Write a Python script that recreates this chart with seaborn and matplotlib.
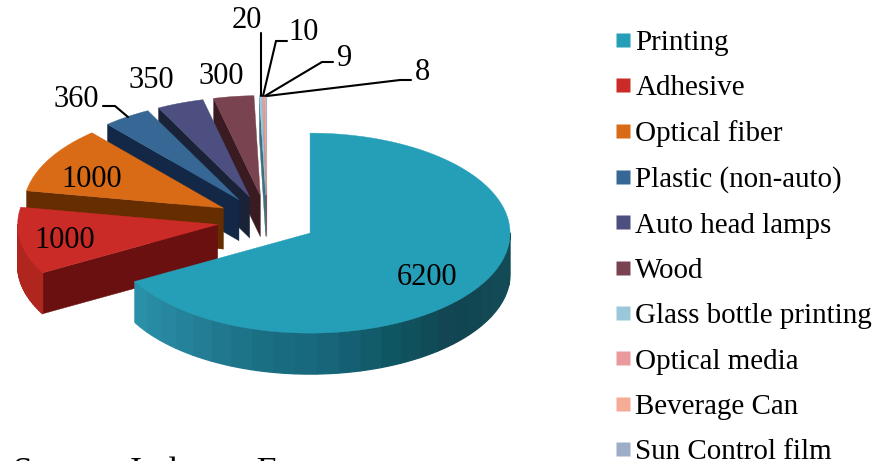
import numpy as np
import matplotlib
matplotlib.use("Agg")
import matplotlib.pyplot as plt
from matplotlib.collections import PolyCollection
from matplotlib.lines import Line2D
from matplotlib.patches import Polygon
import seaborn as sns

# Ink demand by application segment
segments = ["Printing", "Adhesive", "Optical fiber", "Plastic (non-auto)", "Auto head lamps",
            "Wood", "Glass bottle printing", "Optical media", "Beverage Can", "Sun Control film"]
volumes = [6200, 1000, 1000, 360, 350, 300, 20, 10, 9, 8]

top_colors = ["#259FB8", "#CB2B27", "#D96B17", "#376895", "#4C4F7F",
              "#7A4350", "#9AC8DA", "#EA9A9C", "#F6AB97", "#9DADC8"]
cut_colors = ["#14505C", "#6B1010", "#652D00", "#122846", "#1A2237",
              "#3B1B22", "#3F6F7E", "#7A4F50", "#806050", "#5A6A80"]
rim_stops = {"Printing": ["#2A90A8", "#25809A", "#1B7084", "#17667A", "#0F5562", "#114450", "#124A55", "#124A55"],
             "Adhesive": ["#B0261F", "#B0261F"]}

# Projection of the tilted pie onto the canvas
CX, CY = 267.0, 220.4
RX, RY = 200.0, 100.0
DEPTH = 41.0
EXPLODE = 0.25

FONT = "Liberation Serif"


def rim_point(apex, deg):
    rad = np.deg2rad(deg)
    return np.column_stack([apex[0] + RX * np.sin(rad), apex[1] - RY * np.cos(rad)])


sns.set_theme(style="white", rc={"font.family": FONT})
fig = plt.figure(figsize=(8.9, 4.61), dpi=100)
ax = fig.add_axes([0, 0, 1, 1])
ax.set_xlim(0, 890)
ax.set_ylim(461, 0)
ax.axis("off")

edges = np.concatenate([[0], np.cumsum(volumes)]) / np.sum(volumes) * 360
layer = 1

# Back slices first, so the large front slices overlap them
for i in reversed(range(len(volumes))):
    start, end = edges[i], edges[i + 1]
    mid = np.deg2rad((start + end) / 2)
    apex = (CX + EXPLODE * RX * np.sin(mid), CY - EXPLODE * RY * np.cos(mid))

    # Cut face along the leading edge, shown when it turns toward the viewer
    if np.sin(np.deg2rad(start)) < -1e-6:
        corner = rim_point(apex, start)[0]
        quad = [apex, corner, corner + [0, DEPTH], (apex[0], apex[1] + DEPTH)]
        ax.add_patch(Polygon(quad, closed=True, fc=cut_colors[i], ec=cut_colors[i], lw=0.3, zorder=layer))
        layer += 1

    # Outer wall, visible only on the near half of the ellipse
    low, high = max(start, 90.0), min(end, 270.0)
    if high > low and segments[i] in rim_stops:
        steps = np.linspace(low, high, 121)
        pts = rim_point(apex, steps)
        walls = [np.vstack([pts[k:k + 6], pts[k:k + 6][::-1] + [0, DEPTH]]) for k in range(0, 120, 5)]
        shades = sns.blend_palette(rim_stops[segments[i]], n_colors=len(walls))[::-1]
        ax.add_collection(PolyCollection(walls, facecolors=shades, edgecolors=shades, linewidths=0.9, zorder=layer))
        layer += 1

    # Top face
    sweep = rim_point(apex, np.linspace(start, end, 121))
    outline = np.vstack([[apex], sweep])
    ax.add_patch(Polygon(outline, closed=True, fc=top_colors[i], ec=top_colors[i], lw=0.3, zorder=layer))
    layer += 1

# Value labels, with leader lines for the narrow slices
label_font = dict(family=FONT, fontsize=22, color="black", ha="center", va="center", zorder=200)
label_xy = [(427, 277), (65, 240), (92, 179), (76, 99), (151, 81), (221, 76), (247, 20), (304, 33), (345, 58), (423, 73)]
leaders = {3: [(103, 106), (115, 106), (128, 117)],
           6: [(261, 33), (261, 96)],
           7: [(287, 41), (276, 41), (263, 96)],
           8: [(333, 62), (322, 62), (265, 96)],
           9: [(411, 80), (400, 80), (267, 96)]}
for v, (x, y) in zip(volumes, label_xy):
    ax.text(x, y, str(v), **label_font)
for path in leaders.values():
    xs, ys = zip(*path)
    ax.plot(xs, ys, color="black", lw=1.5, solid_joinstyle="miter", zorder=150)

handles = [Line2D([], [], ls="none", marker="s", ms=10.2, mfc=c, mec="none") for c in top_colors]
ax.legend(handles, segments, loc="upper left", bbox_to_anchor=(615 / 890, 1 - 29.5 / 461), frameon=False,
          prop=dict(family=FONT, size=20.9), numpoints=1, handlelength=0.55, handletextpad=0.15,
          labelspacing=0.656, borderpad=0, borderaxespad=0, labelcolor="black")

# Source line runs off the bottom edge of the canvas
ax.text(13, 482, "Source: Industry Experts", family=FONT, fontsize=25.5, color="black",
        ha="left", va="baseline", zorder=200)

fig.savefig("out.png", dpi=100, facecolor="white")
